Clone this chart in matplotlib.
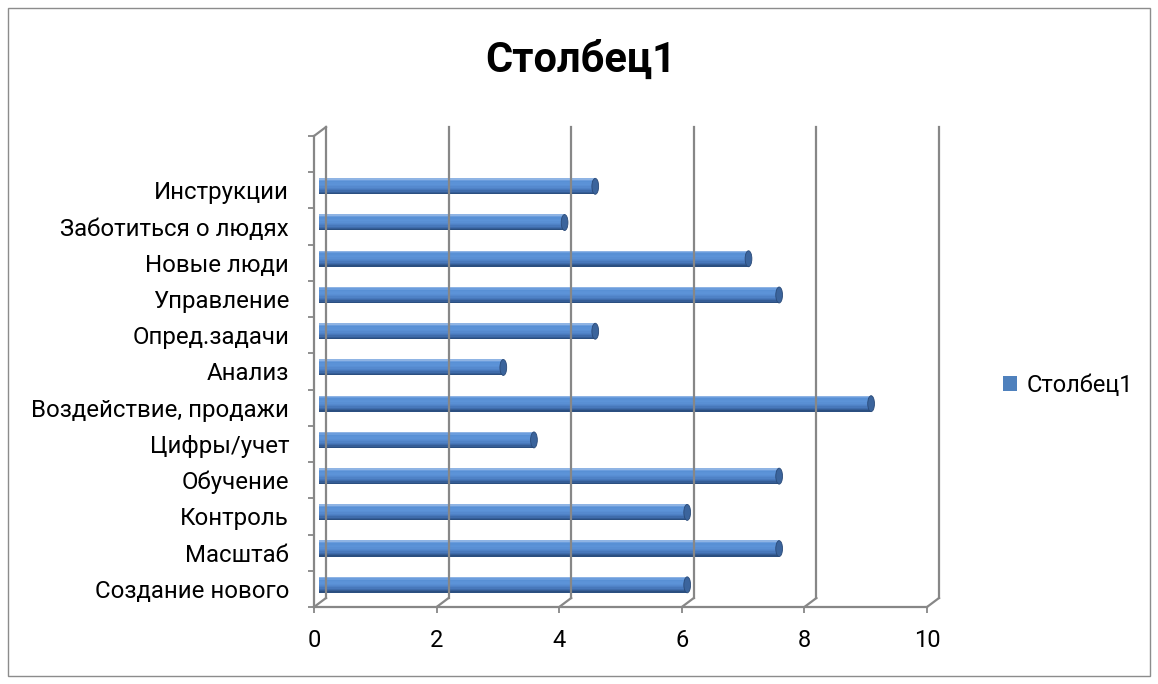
import matplotlib
matplotlib.use("Agg")
import matplotlib.pyplot as plt
import matplotlib.transforms as mtransforms
from matplotlib.patches import Rectangle, Ellipse
from matplotlib.lines import Line2D
import numpy as np

categories = ["Создание нового", "Масштаб", "Контроль", "Обучение", "Цифры/учет",
              "Воздействие, продажи", "Анализ", "Опред.задачи", "Управление",
              "Новые люди", "Заботиться о людях", "Инструкции"]
values = [6, 7.5, 6, 7.5, 3.5, 9, 3, 4.5, 7.5, 7, 4, 4.5]
series_name = "Столбец1"
title = "Столбец1"
xticks = [0, 2, 4, 6, 8, 10]

FONT = ["Roboto", "DejaVu Sans"]
plt.rcParams["font.family"] = FONT

W, H = 1158, 684
fig = plt.figure(figsize=(W / 100, H / 100), dpi=100)

# axes frame (front) in pixels
x0, x1 = 314, 927
y_top, y_bot = 136, 607
ax = fig.add_axes([x0 / W, 1 - y_bot / H, (x1 - x0) / W, (y_bot - y_top) / H])
nslots = len(categories) + 1
ax.set_xlim(0, 10)
ax.set_ylim(-0.5, nslots - 0.5)
for s in ax.spines.values():
    s.set_visible(False)

grid_c = "#878787"
dx, dy = 12 / 100, 9 / 100
back = ax.transData + mtransforms.ScaledTranslation(dx, dy, fig.dpi_scale_trans)
mid = ax.transData + mtransforms.ScaledTranslation(dx * 0.45, dy * 0.45, fig.dpi_scale_trans)

ylo, yhi = -0.5, nslots - 0.5
for xv in xticks:
    ax.add_line(Line2D([xv, xv], [ylo, yhi], color=grid_c, lw=1.6, transform=back, clip_on=False))

def slant(xv, yv):
    p_front = ax.transData.transform((xv, yv))
    p_back = back.transform((xv, yv))
    ax.add_line(Line2D([p_front[0], p_back[0]], [p_front[1], p_back[1]], color=grid_c, lw=1.6,
                       transform=None, clip_on=False))
for xv in xticks:
    slant(xv, ylo)
slant(0, yhi)
ax.add_line(Line2D([0, 0], [ylo, yhi], color=grid_c, lw=1.6, transform=ax.transData, clip_on=False))
ax.add_line(Line2D([0, 10], [ylo, ylo], color=grid_c, lw=1.6, transform=ax.transData, clip_on=False))

# bars as shaded cylinders
ypos = np.arange(len(categories))
bh = 0.44
shades = ["#2b4f80", "#355d96", "#3f6cab", "#4878bb", "#4f82c6", "#5589ce",
          "#598fd4", "#5c93d8", "#5b92d7", "#5890d5", "#6b9ddd", "#8fb4e4"]
n = len(shades)
for i, (yc, v) in enumerate(zip(ypos, values)):
    for k, col in enumerate(shades):
        y_b = yc - bh / 2 + k * bh / n
        ax.barh(y_b, v, height=bh / n + 0.004, align="edge", color=col, edgecolor="none",
                transform=mid, clip_on=False)
    ax.add_patch(Ellipse((v, yc), 0.11, bh, facecolor="#3b649c", edgecolor="#2a4a78", lw=0.6,
                         transform=mid, clip_on=False))

# ticks & labels
ax.set_yticks(ypos)
ax.set_yticklabels(categories, fontsize=17.3, color="#000000")
ax.set_yticks(np.arange(-0.5, nslots, 1.0), minor=True)
ax.tick_params(axis="y", which="major", length=0, pad=18)
ax.tick_params(axis="y", which="minor", length=4.5, width=1.3, color=grid_c)
ax.set_xticks(xticks)
ax.set_xticklabels([str(t) for t in xticks], fontsize=17)
ax.tick_params(axis="x", which="major", length=4.5, width=1.3, color=grid_c, pad=11)

fig.text(581 / W, 1 - 60 / H, title, ha="center", va="center", fontsize=30, fontweight="bold")

# legend
handle = Rectangle((0, 0), 1, 1, facecolor="#4f81bd", edgecolor="none")
fig.legend([handle], [series_name], loc="center left", bbox_to_anchor=(1003 / W, 1 - 385 / H),
           frameon=False, fontsize=17, handlelength=0.6, handleheight=0.6, handletextpad=0.4,
           borderaxespad=0, borderpad=0)

# outer border
fig.add_artist(Rectangle((8 / W, 8 / H), (W - 16) / W, (H - 16) / H, transform=fig.transFigure,
                         fill=False, edgecolor="#8c8c8c", lw=1.0))

fig.savefig("out.png", dpi=100)
